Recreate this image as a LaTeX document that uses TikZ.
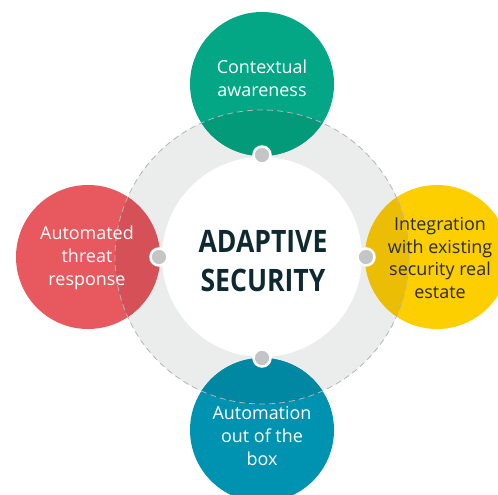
\documentclass[tikz,border=0pt]{standalone}
\usepackage{fontspec}
\setmainfont{Open Sans}
\definecolor{ringgray}{HTML}{EBECEC}
\definecolor{dashgray}{HTML}{B4B5B6}
\definecolor{dotgray}{HTML}{C4C5C7}
\definecolor{cgreen}{HTML}{03A785}
\definecolor{cgreenD}{HTML}{029A79}
\definecolor{cred}{HTML}{E8585F}
\definecolor{credD}{HTML}{D65157}
\definecolor{cyellow}{HTML}{FDCE00}
\definecolor{cyellowD}{HTML}{EBBE05}
\definecolor{cblue}{HTML}{0093B1}
\definecolor{cblueD}{HTML}{0087A1}
\definecolor{headcol}{HTML}{0E2930}
\definecolor{darktext}{HTML}{2A2A2A}
\tikzset{
  bubble/.style={circle, minimum size=144bp, inner sep=0pt, draw=none},
  label/.style={align=center, font=\fontsize{18}{23}\selectfont},
  joint/.style={circle, fill=dotgray, draw=white, line width=2.5bp, minimum size=17bp, inner sep=0pt},
}
\begin{document}
\begin{tikzpicture}[x=1bp,y=-1bp]
\useasboundingbox (0,0) rectangle (498,495);
\clip (0,0) rectangle (498,495);
\coordinate (c) at (262,257);
% ring
\fill[ringgray] (c) circle (147bp);
% bubbles
\node[bubble, fill=cgreen] (top) at (262,84) {};
\node[bubble, fill=cyellow] (right) at (437,257) {};
\node[bubble, fill=cred] (left) at (88,257) {};
\node[bubble, fill=cblue] (bottom) at (262,430) {};
% darker overlaps with ring
\begin{scope}
  \clip (c) circle (147bp);
  \fill[cgreenD] (top) circle (72bp);
  \fill[cyellowD] (right) circle (72bp);
  \fill[credD] (left) circle (72bp);
  \fill[cblueD] (bottom) circle (72bp);
\end{scope}
% dashed outline
\draw[dashgray, line width=0.8bp, dash pattern=on 6bp off 4bp] (c) circle (147bp);
% inner white circle
\node[circle, fill=white, minimum size=200bp, inner sep=0pt] (core) at (c) {};
% joints
\node[joint] (jt) at (262,155) {};
\node[joint] (jb) at (262,358) {};
\node[joint] (jl) at (159,257) {};
\node[joint] (jr) at (366,257) {};
% center text
\node[align=center, text=headcol, font=\fontsize{31}{39}\selectfont\bfseries] (head) at (263,261)
  {\scalebox{0.86}[1]{ADAPTIVE}\\\scalebox{0.86}[1]{SECURITY}};
% labels
\node[label, text=white] (ttop) at (262,78) {Contextual\\awareness};
\node[label, text=darktext] (tright) at (440,258) {Integration\\with existing\\security real\\estate};
\node[label, text=white] (tleft) at (87,258) {Automated\\threat\\response};
\node[label, text=white] (tbottom) at (262,436) {Automation\\out of the\\box};
\end{tikzpicture}
\end{document}
